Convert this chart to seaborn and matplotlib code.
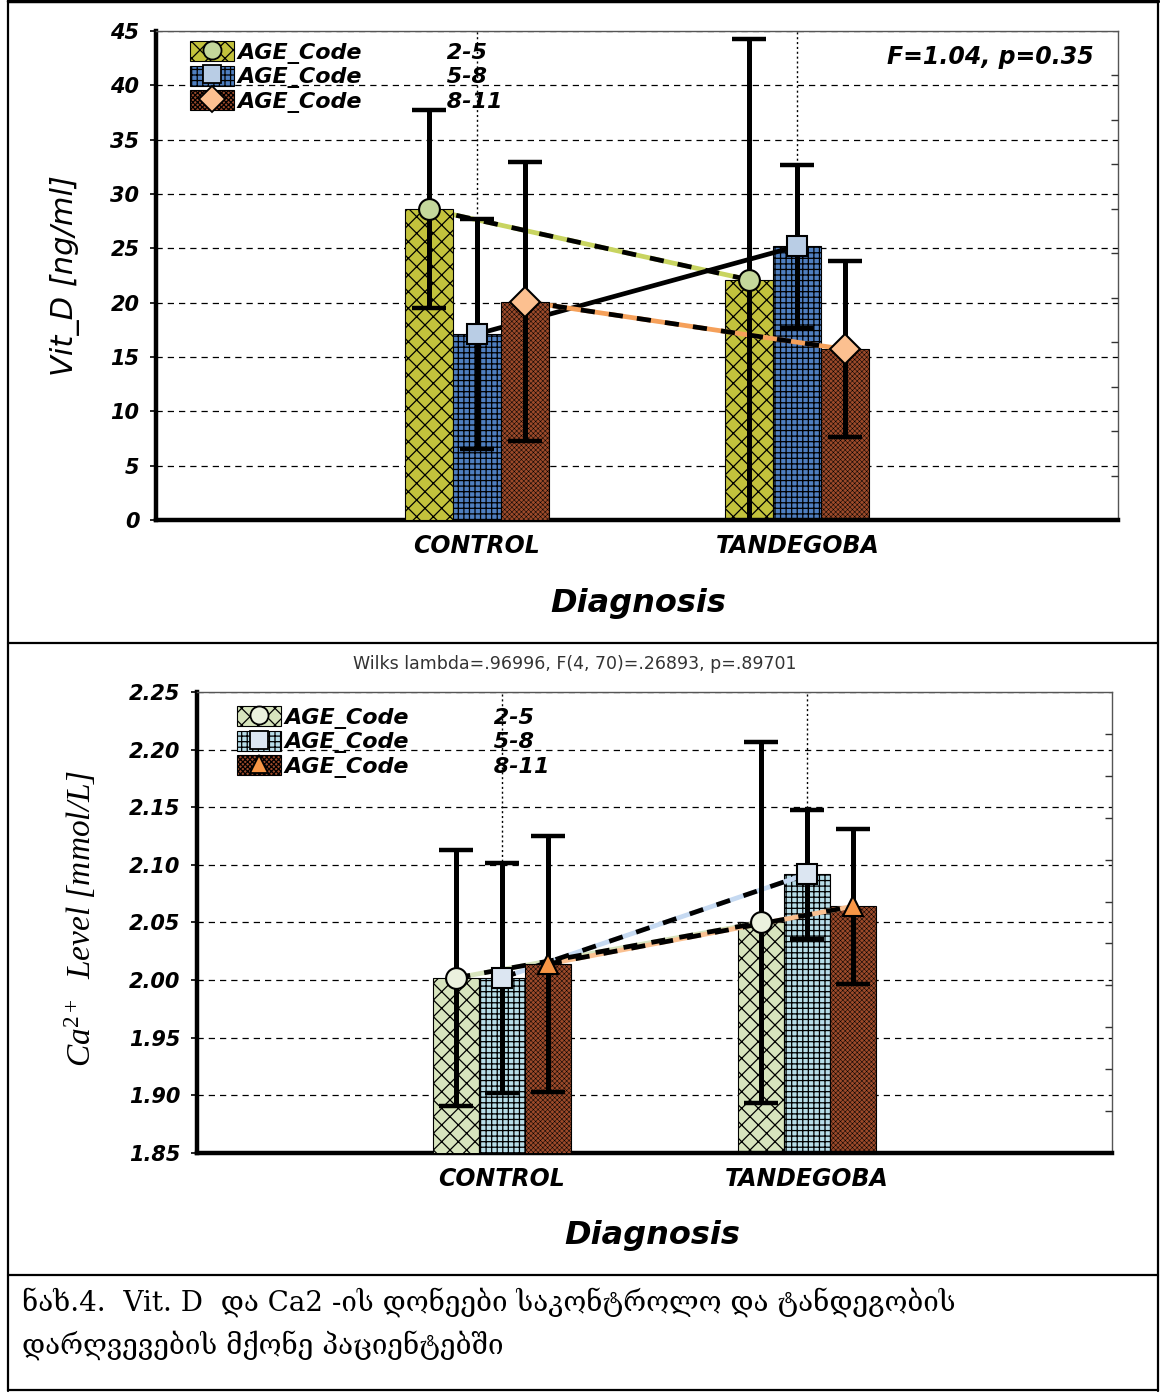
import matplotlib
matplotlib.use("Agg")
import matplotlib.pyplot as plt
import numpy as np
import pandas as pd
import seaborn as sns
from matplotlib.patches import Patch
from matplotlib.lines import Line2D
from matplotlib.legend_handler import HandlerTuple
from matplotlib.ticker import FormatStrFormatter

# ---------------- data ----------------
diagnoses = ["CONTROL", "TANDEGOBA"]
age_codes = ["2-5", "5-8", "8-11"]

# Vitamin D (ng/ml): group means and error-bar half widths
vitd_2_5 = [28.6, 22.1]
vitd_5_8 = [17.1, 25.2]
vitd_8_11 = [20.1, 15.7]
vitd_err_2_5 = [9.1, 22.2]
vitd_err_5_8 = [10.6, 7.5]
vitd_err_8_11 = [12.8, 8.1]

# Ca2+ (mmol/L): group means and error-bar half widths
ca_2_5 = [2.002, 2.050]
ca_5_8 = [2.002, 2.092]
ca_8_11 = [2.014, 2.064]
ca_err_2_5 = [0.111, 0.157]
ca_err_5_8 = [0.100, 0.056]
ca_err_8_11 = [0.111, 0.067]

vitd_ticks = [0, 5, 10, 15, 20, 25, 30, 35, 40, 45]
ca_ticks = [1.85, 1.90, 1.95, 2.00, 2.05, 2.10, 2.15, 2.20, 2.25]

# ---------------- style ----------------
sns.set_theme(style="white")
plt.rcParams["font.family"] = ["DejaVu Sans"]
plt.rcParams["hatch.linewidth"] = 0.9
plt.rcParams["mathtext.fontset"] = "custom"
plt.rcParams["mathtext.rm"] = "Liberation Serif"
plt.rcParams["mathtext.it"] = "Liberation Serif:italic"
for key in ["text.color", "axes.labelcolor", "xtick.color", "ytick.color"]:
    plt.rcParams[key] = "black"

BOLD_IT = dict(family="DejaVu Sans", weight="bold", style="italic")

fig = plt.figure(figsize=(11.6, 13.93), dpi=100)
W, H = 1160, 1393


def axes_rect(left, top, right, bottom):
    return [left / W, 1 - bottom / H, (right - left) / W, (bottom - top) / H]


ax_top = fig.add_axes(axes_rect(156, 31, 1118, 520))
ax_bot = fig.add_axes(axes_rect(197, 692, 1112, 1153))


def draw_panel(ax, means, errs, bar_colors, hatches, markers, marker_colors,
               line_colors, ylim, yticks, fmt, ylabel, ylabel_kw, ylabel_xy,
               legend_anchor, right_ticks):
    rows = []
    for age, vals in zip(age_codes, means):
        for d, v in zip(diagnoses, vals):
            rows.append({"Diagnosis": d, "AGE_Code": age, "value": v})
    df = pd.DataFrame(rows)

    sns.barplot(data=df, x="Diagnosis", y="value", hue="AGE_Code",
                order=diagnoses, hue_order=age_codes,
                palette=dict(zip(age_codes, bar_colors)), saturation=1,
                width=0.45, errorbar=None, edgecolor="black", linewidth=0.8,
                legend=False, ax=ax)

    centers = []
    for i, cont in enumerate(ax.containers):
        xs = []
        for j, p in enumerate(cont.patches):
            p.set_hatch(hatches[i])
            p.set_edgecolor("black")
            if i == 2:
                try:
                    p.set_hatch_linewidth(0.35)
                except AttributeError:
                    pass
            # first category's bars sit above the connecting lines
            p.set_zorder(3 if j == 0 else 1.5)
            xs.append(p.get_x() + p.get_width() / 2)
        centers.append(xs)

    for i in range(3):
        x = centers[i]
        y = means[i]
        ax.plot(x, y, color=line_colors[i], lw=3.4, zorder=2,
                solid_capstyle="butt")
        if line_colors[i] != "black":
            ax.plot(x, y, color="black", lw=3.4, ls=(0, (3, 3)), zorder=2.1,
                    dash_capstyle="butt")
        ax.errorbar(x, y, yerr=errs[i], fmt="none", ecolor="black",
                    elinewidth=3.6, capsize=12, capthick=3.2, zorder=4)
        ax.plot(x, y, ls="none", marker=markers[i], ms=15,
                mfc=marker_colors[i], mec="black", mew=1.5, zorder=5)

    ax.set_xlim(-1, 2)
    ax.set_ylim(*ylim)
    ax.set_yticks(yticks)
    ax.yaxis.set_major_formatter(FormatStrFormatter(fmt))
    ax.set_axisbelow(True)
    ax.yaxis.grid(True, ls=(0, (5, 4)), color="black", lw=0.9)
    ax.xaxis.grid(True, ls=(0, (1.5, 2)), color="black", lw=1.0)

    for s in ["left", "bottom"]:
        ax.spines[s].set_linewidth(3.2)
        ax.spines[s].set_color("black")
    for s in ["top", "right"]:
        ax.spines[s].set_linewidth(1.0)
        ax.spines[s].set_color("#555555")
        ax.spines[s].set_visible(True)

    ax.tick_params(axis="y", direction="out", length=4, width=1.2, pad=8,
                   left=True, right=False)
    ax.tick_params(axis="x", length=0, pad=10)
    for lab in ax.get_yticklabels():
        lab.set_fontsize(15)
        lab.set(**BOLD_IT)
    for lab in ax.get_xticklabels():
        lab.set_fontsize(17)
        lab.set(**BOLD_IT)

    ax.set_xlabel("Diagnosis", fontsize=23, **BOLD_IT)
    ax.set_ylabel("")
    ax.text(ylabel_xy[0], ylabel_xy[1], ylabel, rotation=90, ha="center",
            va="center", transform=ax.transAxes, **ylabel_kw)

    # minor tick marks along the right frame
    ax2 = ax.twinx()
    ax2.set_ylim(0, right_ticks)
    ax2.set_yticks(np.arange(1, right_ticks))
    ax2.tick_params(axis="y", direction="in", length=5, width=1.0,
                    labelright=False, right=True, colors="#333333")
    for s in ax2.spines.values():
        s.set_visible(False)
    ax2.grid(False)

    handles = []
    for i in range(3):
        patch = Patch(facecolor=bar_colors[i], edgecolor="black",
                      hatch=hatches[i], lw=0.8)
        mk = Line2D([], [], ls="none", marker=markers[i], ms=13,
                    mfc=marker_colors[i], mec="black", mew=1.3)
        handles.append((patch, mk))
    labels = [f"AGE_Code           {a}" for a in age_codes]
    ax.legend(handles, labels, handler_map={tuple: HandlerTuple(ndivide=1)},
              loc="upper left", bbox_to_anchor=legend_anchor,
              borderaxespad=0, frameon=False, handlelength=2.0,
              handleheight=1.0, handletextpad=0.15, labelspacing=0.08,
              prop=dict(family="DejaVu Sans", weight="bold", style="italic",
                        size=16))
    return ax


draw_panel(
    ax_top,
    means=[vitd_2_5, vitd_5_8, vitd_8_11],
    errs=[vitd_err_2_5, vitd_err_5_8, vitd_err_8_11],
    bar_colors=["#c3c23c", "#4f7fc0", "#9c4a2a"],
    hatches=["xx", "+++", "xxxxxxx"],
    markers=["o", "s", "D"],
    marker_colors=["#c4d79b", "#b9cde5", "#fcc090"],
    line_colors=["#c8d460", "black", "#f5a05a"],
    ylim=(0, 45), yticks=vitd_ticks, fmt="%d",
    ylabel="Vit_D [ng/ml]",
    ylabel_kw=dict(family="DejaVu Sans", style="italic", size=22),
    ylabel_xy=(-0.095, 0.50),
    legend_anchor=(0.026, 0.997),
    right_ticks=11,
)

draw_panel(
    ax_bot,
    means=[ca_2_5, ca_5_8, ca_8_11],
    errs=[ca_err_2_5, ca_err_5_8, ca_err_8_11],
    bar_colors=["#d7e4bd", "#b7dde8", "#9c4a2a"],
    hatches=["xx", "+++", "xxxxxxx"],
    markers=["o", "s", "^"],
    marker_colors=["#ebf1de", "#dce6f2", "#f79646"],
    line_colors=["#d7e4bd", "#c5d9f1", "#fac090"],
    ylim=(1.85, 2.25), yticks=ca_ticks, fmt="%.2f",
    ylabel=r"Ca$^{2+}$  Level [mmol/L]",
    ylabel_kw=dict(family="Liberation Serif", style="italic", size=24),
    ylabel_xy=(-0.128, 0.51),
    legend_anchor=(0.034, 0.988),
    right_ticks=11,
)

ax_top.xaxis.set_label_coords(0.501, -0.139)
ax_bot.xaxis.set_label_coords(0.498, -0.145)

ax_top.text(0.975, 0.947, "F=1.04, p=0.35", transform=ax_top.transAxes,
            ha="right", va="center", size=17, **BOLD_IT)

fig.text(575 / W, 1 - 664 / H, "Wilks lambda=.96996, F(4, 70)=.26893, p=.89701",
         ha="center", va="center", size=12.5, color="#333333",
         family="DejaVu Sans")

# caption
cap_font = ["DejaVu Serif", "DejaVu Sans"]
fig.text(22 / W, 1 - 1302 / H,
         "ნახ.4.  Vit. D  და Ca2 -ის დონეები საკონტროლო და ტანდეგობის",
         ha="left", va="center", size=20, family=cap_font)
fig.text(22 / W, 1 - 1345 / H,
         "დარღვევების მქონე პაციენტებში",
         ha="left", va="center", size=20, family=cap_font)

# panel frame
def fline(x0, y0, x1, y1, lw=1.6):
    fig.add_artist(Line2D([x0 / W, x1 / W], [1 - y0 / H, 1 - y1 / H],
                          transform=fig.transFigure, color="black", lw=lw))

fline(8, 1, 1158, 1, lw=2.5)
fline(8, 643, 1158, 643)
fline(8, 1275, 1158, 1275)
fline(8, 1390, 1158, 1390)
fline(8, 0, 8, 1391)
fline(1158, 0, 1158, 1391)

fig.savefig("out.png", dpi=100, facecolor="white")
